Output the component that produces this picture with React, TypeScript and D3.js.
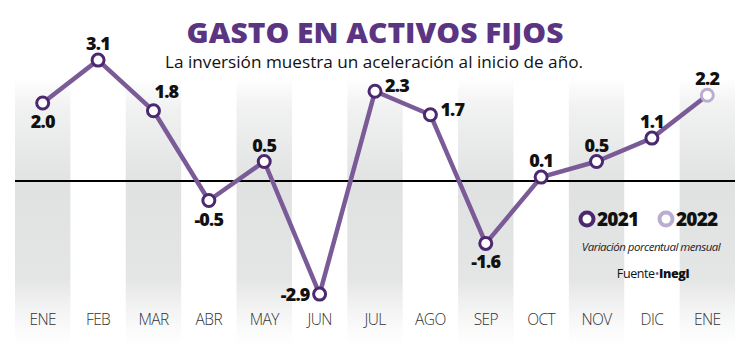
import React from "react";
import * as d3 from "d3";

const months = ["ENE", "FEB", "MAR", "ABR", "MAY", "JUN", "JUL", "AGO", "SEP", "OCT", "NOV", "DIC", "ENE"];
const values = [2.0, 3.1, 1.8, -0.5, 0.5, -2.9, 2.3, 1.7, -1.6, 0.1, 0.5, 1.1, 2.2];
const years = ["2021", "2021", "2021", "2021", "2021", "2021", "2021", "2021", "2021", "2021", "2021", "2021", "2022"];
const labelSide = ["below", "above", "aboveRight", "below", "above", "left", "right", "right", "below", "above", "above", "above", "above"];
const legendYears = ["2021", "2022"];

const W = 750, H = 354;
const LINE = "#7a5b97";
const DARK = "#4b2870";
const LIGHT = "#bcaccf";
const TITLE = "#5b3582";

export default function App() {
  const x = d3.scaleBand<number>().domain(d3.range(months.length)).range([15, 735]).padding(0);
  const bw = x.bandwidth();
  const cx = (i: number) => (x(i) as number) + bw / 2;
  const y = d3.scaleLinear().domain([-3, 3.2]).range([181 + 3 * 39, 181 - 3.2 * 39]);
  const line = d3.line<number>().x((_, i) => cx(i)).y((d) => y(d));
  const fmt = (v: number) => d3.format(".1f")(v).replace("\u2212", "-");

  const labelAttrs = (i: number) => {
    const px = cx(i), py = y(values[i]);
    switch (labelSide[i]) {
      case "below": return { x: px, y: py + 25, anchor: "middle" };
      case "above": return { x: px, y: py - 10, anchor: "middle" };
      case "aboveRight": return { x: px + 1, y: py - 13, anchor: "start" };
      case "left": return { x: px - 10, y: py + 7, anchor: "end" };
      default: return { x: px + 10, y: py + 1, anchor: "start" };
    }
  };

  return (
    <svg width={W} height={H} style={{ position: "absolute", left: 0, top: 0, background: "#fff" }}
      fontFamily="'Open Sans', sans-serif">
      <defs>
        <linearGradient id="band" x1="0" y1="0" x2="0" y2="1">
          <stop offset="0" stopColor="#e3e4e4" stopOpacity="0" />
          <stop offset="0.12" stopColor="#e6e7e7" stopOpacity="0.6" />
          <stop offset="0.4" stopColor="#e0e1e1" stopOpacity="1" />
          <stop offset="0.75" stopColor="#e4e5e5" stopOpacity="1" />
          <stop offset="1" stopColor="#eeeeee" stopOpacity="0" />
        </linearGradient>
      </defs>
      {months.map((m, i) => i % 2 === 0 ? (
        <rect key={"b" + i} x={x(i)} y={78} width={bw} height={268} fill="url(#band)" />
      ) : null)}
      <text x={375} y={43} textAnchor="middle" fontSize={29} fontWeight={800} fill={TITLE}
        textLength={377} lengthAdjust="spacingAndGlyphs">GASTO EN ACTIVOS FIJOS</text>
      <text x={374} y={68} textAnchor="middle" fontSize={17} fill="#111"
        textLength={418} lengthAdjust="spacingAndGlyphs">La inversión muestra un aceleración al inicio de año.</text>
      <line x1={15} x2={735} y1={y(0)} y2={y(0)} stroke="#000" strokeWidth={2} />
      <path d={line(values) || ""} fill="none" stroke={LINE} strokeWidth={4.5} strokeLinejoin="round" />
      {values.map((v, i) => (
        <circle key={"c" + i} cx={cx(i)} cy={y(v)} r={6}
          fill="#fff" stroke={years[i] === "2022" ? LIGHT : DARK} strokeWidth={3} />
      ))}
      {values.map((v, i) => {
        const a = labelAttrs(i);
        return (
          <text key={"l" + i} x={a.x} y={a.y} textAnchor={a.anchor} fontSize={18} fontWeight={800}
            fill="#111" letterSpacing={-0.8}>{fmt(v)}</text>
        );
      })}
      {months.map((m, i) => (
        <text key={"m" + i} x={cx(i)} y={325} textAnchor="middle" fontSize={15.5} fill="#333" fontWeight={300}
          letterSpacing={-0.6}>{m}</text>
      ))}
      {legendYears.map((yr, k) => (
        <g key={"lg" + k} transform={`translate(${k === 0 ? 587 : 666},219)`}>
          <circle r={6.5} fill="#fff" stroke={k === 0 ? DARK : LIGHT} strokeWidth={4} />
          <text x={10} y={6.5} fontSize={19} fontWeight={800} fill="#111" letterSpacing={-0.8}>{yr}</text>
        </g>
      ))}
      <text x={651} y={251} textAnchor="middle" fontSize={11.5} fontStyle="italic" fill="#222" letterSpacing={-0.5}>
        Variación porcentual mensual
      </text>
      <text x={653} y={278} textAnchor="middle" fontSize={12.5} fill="#111" letterSpacing={-0.4}>
        Fuente<tspan fill={LINE}>•</tspan><tspan fontWeight={800}>Inegi</tspan>
      </text>
    </svg>
  );
}
